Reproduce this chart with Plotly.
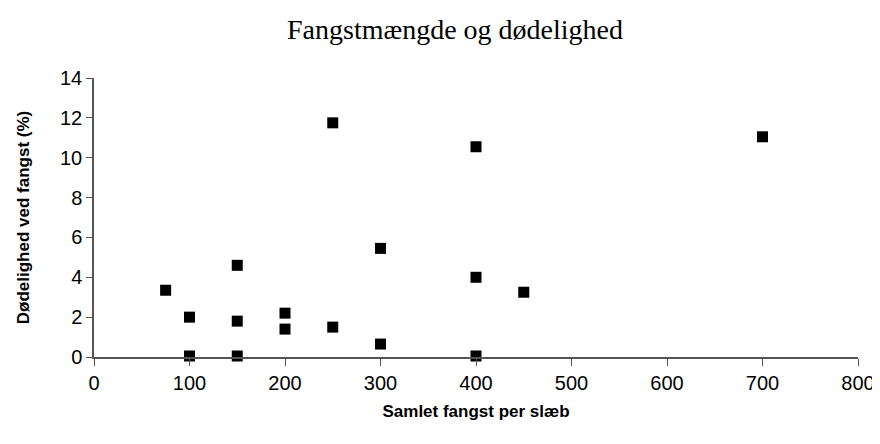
import plotly.graph_objects as go

# Samlet fangst per slæb vs. dødelighed ved fangst (%)
fangst = [75, 100, 100, 150, 150, 150, 200, 200, 250, 250, 300, 300, 400, 400, 400, 450, 700]
doedelighed = [3.35, 2.0, 0.05, 4.6, 1.8, 0.05, 2.2, 1.4, 11.75, 1.5, 5.45, 0.65, 10.55, 4.0, 0.05, 3.25, 11.05]

x_ticks = [0, 100, 200, 300, 400, 500, 600, 700, 800]
y_ticks = [0, 2, 4, 6, 8, 10, 12, 14]

fig = go.Figure()
fig.add_trace(go.Scatter(
    x=fangst, y=doedelighed, mode='markers',
    marker=dict(symbol='square', size=11, color='black'),
    cliponaxis=False, showlegend=False,
))

fig.update_layout(
    width=880, height=444,
    margin=dict(l=86, r=30, t=70, b=95),
    paper_bgcolor='white', plot_bgcolor='white',
    title=dict(text='Fangstmængde og dødelighed', x=0.508, xanchor='center', y=0.952, yanchor='middle',
               font=dict(family='Liberation Serif, serif', size=28, color='black')),
    font=dict(family='Liberation Sans, Arial, sans-serif', color='black'),
)
tick_font = dict(size=20)
fig.update_xaxes(
    range=[0, 800], tickvals=x_ticks, showgrid=False, zeroline=False,
    showline=True, linecolor='#555555', linewidth=1.5,
    ticks='outside', ticklen=7, tickcolor='#555555',
    tickfont=tick_font,
    title=dict(text='<b>Samlet fangst per slæb</b>', font=dict(size=17), standoff=12),
)
fig.update_yaxes(
    range=[0, 14], tickvals=y_ticks, showgrid=False, zeroline=False,
    showline=True, linecolor='#555555', linewidth=1.5,
    ticks='outside', ticklen=6, tickcolor='#555555',
    tickfont=tick_font,
    title=dict(text='<b>Dødelighed ved fangst (%)</b>', font=dict(size=17), standoff=26),
)

fig.write_html("out.html")
